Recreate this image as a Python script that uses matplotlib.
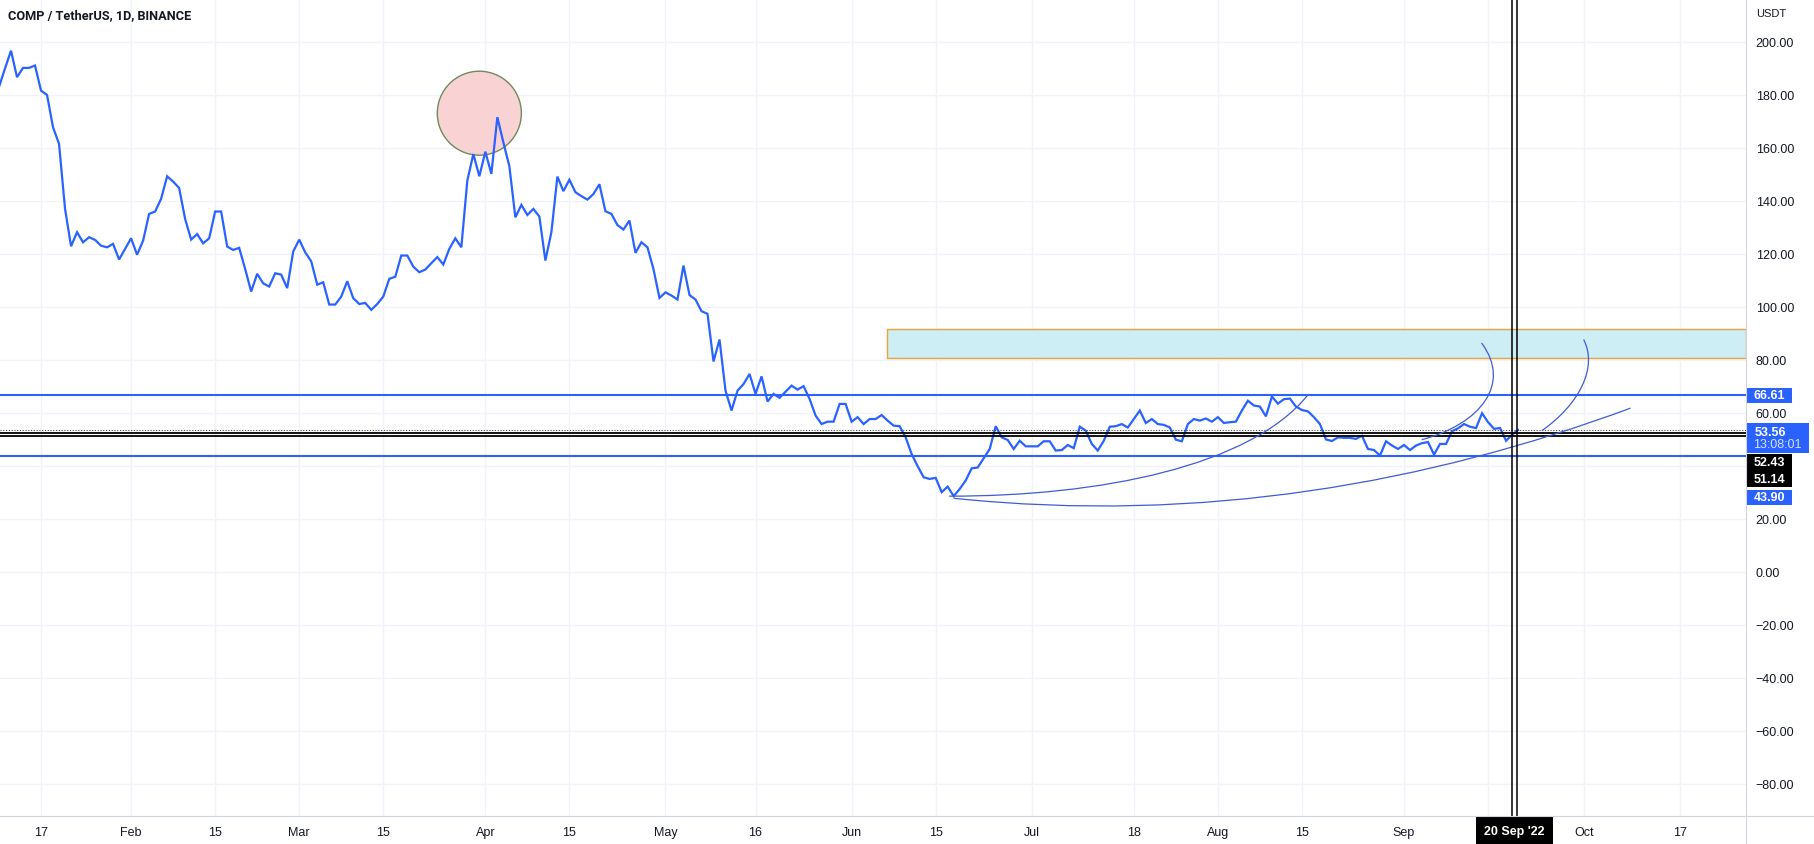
import pandas as pd
import matplotlib
matplotlib.use("Agg")
import matplotlib.pyplot as plt
import matplotlib.dates as mdates
import matplotlib.transforms as mtransforms
from matplotlib.patches import Rectangle, Ellipse, PathPatch
from matplotlib.path import Path
from matplotlib.lines import Line2D

# daily closes COMP/USDT
JAN = [183.0, 190.0, 196.7, 186.7, 190.2, 190.2, 191.1, 181.6, 180.0, 167.8,
       161.5, 137.0, 122.9, 128.2, 124.4, 126.3, 125.3, 123.1, 122.5, 123.8,
       117.9, 121.9]  # from Jan 10
FEB = [125.9, 119.7, 125.0, 135.1, 136.0, 140.8, 149.3, 147.3, 144.9, 133.2,
       125.4, 127.5, 124.0, 125.9, 136.0, 136.0, 122.8, 121.5, 122.3, 114.3,
       105.8, 112.5, 108.9, 107.7, 112.7, 112.2, 107.1, 120.9]
MAR = [125.4, 120.6, 117.2, 108.4, 109.3, 100.9, 100.9, 103.9, 109.7, 103.3,
       101.1, 101.5, 98.9, 101.1, 103.9, 110.6, 111.4, 119.4, 119.4, 115.2,
       113.1, 114.1, 116.5, 118.8, 116.0, 121.9, 125.9, 122.5, 147.7, 157.7,
       149.3]
APR = [158.6, 150.2, 171.6, 162.1, 153.1, 133.8, 138.5, 134.7, 137.0, 134.1,
       117.5, 128.2, 149.2, 143.7, 148.0, 143.3, 141.8, 140.5, 142.6, 146.3,
       136.1, 135.1, 130.9, 129.2, 132.6, 120.4, 124.4, 122.5, 114.3, 103.4]
MAY = [105.5, 104.3, 102.8, 115.6, 104.5, 102.8, 98.4, 97.4, 79.4, 87.7,
       68.4, 60.9, 68.4, 70.9, 74.7, 67.2, 73.8, 64.3, 67.2, 65.7,
       68.0, 70.3, 68.8, 70.1, 65.3, 59.0, 55.8, 56.7, 56.7, 63.4, 63.4]
JUN = [56.7, 58.4, 55.8, 57.7, 57.7, 59.2, 57.1, 55.2, 55.0, 50.8,
       44.5, 39.9, 35.7, 35.1, 35.5, 30.1, 32.2, 28.6, 31.3, 34.5,
       39.1, 39.4, 42.9, 46.4, 55.0, 50.8, 49.8, 46.4, 49.5, 47.4]
JUL = [47.4, 47.4, 49.3, 49.3, 45.8, 46.0, 47.9, 46.7, 54.8, 53.3,
       48.3, 45.8, 49.5, 54.8, 55.0, 55.8, 54.5, 57.7, 60.9, 56.2,
       57.7, 55.8, 55.5, 54.5, 49.9, 49.3, 55.8, 57.7, 57.1, 57.9, 56.7]
AUG = [58.4, 56.2, 56.5, 56.7, 60.9, 64.6, 62.8, 62.4, 58.7, 66.2,
       63.5, 65.2, 65.4, 62.4, 61.1, 60.6, 58.4, 55.8, 50.0, 49.4,
       50.8, 50.6, 50.6, 50.2, 51.4, 46.4, 46.0, 43.9, 49.3, 47.7, 46.4]
SEP = [47.9, 46.0, 47.7, 48.6, 49.0, 44.3, 48.3, 48.3, 53.1, 54.2,
       55.8, 54.8, 54.3, 59.9, 56.5, 54.0, 54.3, 49.5, 51.8, 53.56]
START_DATE = "2022-01-10"

# horizontal levels and axis badges
BLUE_LEVELS = [66.61, 43.90]
BLACK_LEVELS = [52.43, 51.14]
LAST_PRICE = 53.56
COUNTDOWN = "13:08:01"

# drawings
ZONE_START, ZONE_END = "2022-06-06 22:00", "2022-10-28 00:00"
ZONE_LOW, ZONE_HIGH = 80.8, 91.6
CIRCLE_DATE, CIRCLE_PRICE = "2022-03-31 00:00", 173.1
CIRCLE_W_DAYS, CIRCLE_H_PRICE = 14.0, 31.7

LOWER_ARC_DATES = ["2022-06-18 00:00", "2022-07-29 12:00", "2022-09-05 07:00", "2022-10-08 17:00"]
LOWER_ARC_VALUES = [27.8, 18.0, 33.8, 61.8]
UPPER_ARC_DATES = ["2022-06-17 06:00", "2022-07-12 10:00", "2022-08-06 10:00", "2022-08-15 22:00"]
UPPER_ARC_VALUES = [28.6, 28.5, 40.0, 66.6]
HOOK_A_DATES = ["2022-09-03 23:00", "2022-09-13 17:00", "2022-09-19 00:00", "2022-09-13 22:00"]
HOOK_A_VALUES = [49.9, 55.8, 70.9, 86.4]
HOOK_B_DATES = ["2022-09-23 23:00", "2022-09-30 07:00", "2022-10-03 07:00", "2022-09-30 22:00"]
HOOK_B_VALUES = [53.3, 63.4, 77.4, 87.7]

CROSSHAIR_DATES = ["2022-09-19 00:00", "2022-09-19 20:00"]
CROSSHAIR_LABEL = "20 Sep '22"

TICK_DATES = ["2022-01-17", "2022-02-01", "2022-02-15", "2022-03-01", "2022-03-15",
              "2022-04-01", "2022-04-15", "2022-05-01", "2022-05-16", "2022-06-01",
              "2022-06-15", "2022-07-01", "2022-07-18", "2022-08-01", "2022-08-15",
              "2022-09-01", "2022-09-15", "2022-10-01", "2022-10-17"]
TICK_LABELS = ["17", "Feb", "15", "Mar", "15", "Apr", "15", "May", "16", "Jun",
               "15", "Jul", "18", "Aug", "15", "Sep", "", "Oct", "17"]
Y_TICKS = list(range(-80, 201, 20))
Y_HIDDEN = [40]

BLUE = "#2962ff"
ARC_BLUE = "#3f5bd6"
TEXT = "#131722"
GRID = "#f0f3fa"
BORDER = "#d1d4dc"
FONT = ["Liberation Sans", "DejaVu Sans"]
FS = 9.0


def dnum(d):
    return mdates.date2num(pd.to_datetime(d, format="mixed"))


def bezier(ax, dates, values):
    verts = list(zip(dnum(dates), values))
    codes = [Path.MOVETO, Path.CURVE4, Path.CURVE4, Path.CURVE4]
    ax.add_patch(PathPatch(Path(verts, codes), fc="none", ec=ARC_BLUE, lw=0.9, zorder=6))


plt.rcParams["font.family"] = FONT
fig = plt.figure(figsize=(18.14, 8.45), dpi=100)
ax_w, ax_h = 1746 / 1814, 817 / 845
ax = fig.add_axes([0, 1 - ax_h, ax_w, ax_h])

close = JAN + FEB + MAR + APR + MAY + JUN + JUL + AUG + SEP
dates = pd.date_range(START_DATE, periods=len(close), freq="D")

ax.set_xlim(dnum("2022-01-10 04:00"), dnum("2022-10-27 23:00"))
ax.set_ylim(-92.1, 216.2)

# zones / shapes behind the price
ax.add_patch(Rectangle((dnum(ZONE_START), ZONE_LOW), dnum(ZONE_END) - dnum(ZONE_START),
                       ZONE_HIGH - ZONE_LOW, fc="#cdeef4", ec="#e8a33a", lw=1.0, zorder=2))
ax.add_patch(Ellipse((dnum(CIRCLE_DATE), CIRCLE_PRICE), CIRCLE_W_DAYS, CIRCLE_H_PRICE,
                     fc="#f9d3d4", ec="#6f8a5c", lw=1.0, zorder=2))

ax.plot(dates, close, color=BLUE, lw=1.6, zorder=4, solid_joinstyle="miter")

for lvl in BLUE_LEVELS:
    ax.axhline(lvl, color=BLUE, lw=1.5, zorder=5)
for lvl in BLACK_LEVELS:
    ax.axhline(lvl, color="black", lw=1.3, zorder=5)
ax.axhline(LAST_PRICE, color="#444444", lw=0.8, ls=(0, (1, 1.5)), zorder=5)

bezier(ax, LOWER_ARC_DATES, LOWER_ARC_VALUES)
bezier(ax, UPPER_ARC_DATES, UPPER_ARC_VALUES)
bezier(ax, HOOK_A_DATES, HOOK_A_VALUES)
bezier(ax, HOOK_B_DATES, HOOK_B_VALUES)

for d in CROSSHAIR_DATES:
    ax.axvline(dnum(d), color="black", lw=1.1, zorder=7)

# axes styling
ax.set_xticks(dnum(TICK_DATES))
ax.set_xticklabels(TICK_LABELS)
ax.set_yticks(Y_TICKS)
ax.set_yticklabels(["" if v in Y_HIDDEN else f"{v:.2f}".replace("-", "\u2212") for v in Y_TICKS])
ax.yaxis.tick_right()
ax.tick_params(axis="both", length=0, labelsize=FS, colors=TEXT)
ax.tick_params(axis="y", pad=7)
ax.tick_params(axis="x", pad=7)
ax.grid(True, color=GRID, lw=1.0, zorder=0)
ax.set_axisbelow(True)
for s in ax.spines.values():
    s.set_visible(False)

fig.add_artist(Line2D([0, 1], [1 - ax_h, 1 - ax_h], transform=fig.transFigure, color=BORDER, lw=0.8))
fig.add_artist(Line2D([ax_w, ax_w], [0, 1], transform=fig.transFigure, color=BORDER, lw=0.8))

# price badges on the axis
trans = mtransforms.blended_transform_factory(ax.transAxes, ax.transData)
unit_per_px = 308.3 / 817
frac_per_px = 1 / 1746


def badge(center, height_px, width_px, fc):
    h = height_px * unit_per_px
    ax.add_patch(Rectangle((1.0, center - h / 2), width_px * frac_per_px, h,
                           transform=trans, fc=fc, ec="none", clip_on=False, zorder=8))


def badge_text(xpx, y, s, color="white", bold=True):
    ax.text(1.0 + xpx * frac_per_px, y, s, transform=trans, ha="center", va="center",
            color=color, fontsize=FS, fontweight="bold" if bold else "normal", zorder=9)


badge(BLUE_LEVELS[0], 15, 46, BLUE)
badge_text(23, BLUE_LEVELS[0], f"{BLUE_LEVELS[0]:.2f}")

badge(50.6, 30, 63, BLUE)
badge_text(24, 52.9, f"{LAST_PRICE:.2f}")
badge_text(31, 48.2, COUNTDOWN, color="#d6e0ff", bold=False)

badge(38.3, 33, 46, "black")
badge_text(23, 41.5, f"{BLACK_LEVELS[0]:.2f}")
badge_text(23, 35.1, f"{BLACK_LEVELS[1]:.2f}")

badge(28.1, 15, 46, BLUE)
badge_text(23, 28.1, f"{BLUE_LEVELS[1]:.2f}")

# crosshair date badge
xtrans = mtransforms.blended_transform_factory(ax.transData, ax.transAxes)
ax.text(dnum("2022-09-19 10:00"), -15 / 817, CROSSHAIR_LABEL, transform=xtrans,
        ha="center", va="center", color="white", fontsize=FS, fontweight="bold", clip_on=False,
        bbox=dict(boxstyle="square,pad=0.65", fc="black", ec="none"), zorder=9)

fig.text(8 / 1814, 1 - 16 / 845, "COMP / TetherUS, 1D, BINANCE", ha="left", va="center",
         fontsize=9.2, fontweight="semibold", color=TEXT, family=["Roboto", "DejaVu Sans"])
fig.text(1756 / 1814, 1 - 14 / 845, "USDT", ha="left", va="center", fontsize=8.0, color=TEXT)

fig.savefig("out.png", dpi=100, facecolor="white")
